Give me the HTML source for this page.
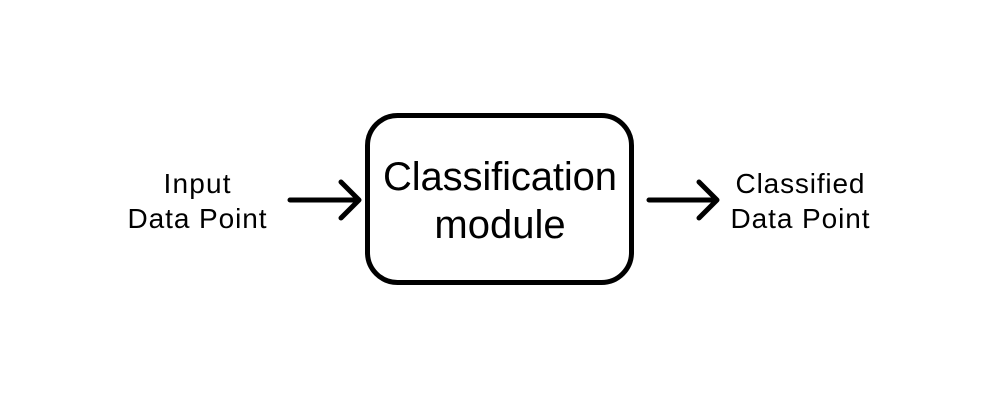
<!DOCTYPE html>
<html><head><style>body{margin:0;background:#fff}</style></head><body>
<svg width="1000" height="400" xmlns="http://www.w3.org/2000/svg" font-family="Liberation Sans, sans-serif">
<rect width="1000" height="400" fill="#fff"/>
<rect x="367.5" y="115.5" width="264" height="167" rx="30" fill="none" stroke="#000" stroke-width="5"/>
<g stroke="#000" stroke-width="5" stroke-linecap="round" stroke-linejoin="round" fill="none">
<path d="M290 200H358M341 182L359 200L341 218"/>
<path d="M649 200H716M699 182L717 200L699 218"/>
</g>
<text x="500" y="190" font-size="40" text-anchor="middle" textLength="234">Classification</text>
<text x="500" y="238" font-size="40" text-anchor="middle">module</text>
<text x="197" y="193" font-size="28" text-anchor="middle" textLength="67">Input</text>
<text x="197" y="228" font-size="28" text-anchor="middle" textLength="139">Data Point</text>
<text x="800" y="193" font-size="28" text-anchor="middle" textLength="129">Classified</text>
<text x="800" y="228" font-size="28" text-anchor="middle" textLength="139">Data Point</text>
</svg>
</body></html>
